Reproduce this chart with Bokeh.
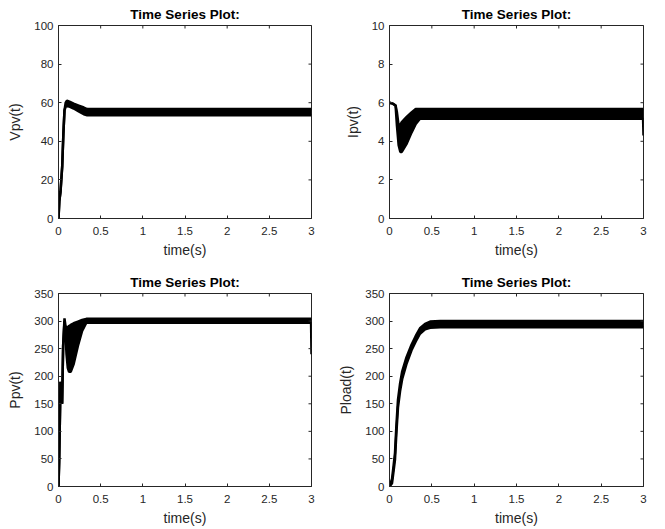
from bokeh.plotting import figure
from bokeh.layouts import column, row
from bokeh.models import Range1d, FixedTicker
from bokeh.embed import file_html
from bokeh.resources import INLINE

# ---------------- data ----------------
title_text = "Time Series Plot:"
x_label = "time(s)"
x_ticks = [0, 0.5, 1, 1.5, 2, 2.5, 3]
x_tick_labels = ["0", "0.5", "1", "1.5", "2", "2.5", "3"]

# Vpv(t): band envelopes
vpv_t = [0.000, 0.010, 0.024, 0.044, 0.058, 0.071, 0.085, 0.100, 0.130, 0.180, 0.240, 0.300, 0.340, 0.400, 1.000, 2.000, 3.000]
vpv_hi = [0, 9, 14, 27, 44, 56, 60, 61, 60.5, 59.5, 58.5, 57.5, 56.7, 56.7, 56.7, 56.7, 56.7]
vpv_lo = [0, 9, 14, 27, 44, 56, 58, 58.2, 58, 57, 55.5, 54, 53.5, 53.5, 53.5, 53.5, 53.5]
vpv_yticks = [0, 20, 40, 60, 80, 100]

# Ipv(t)
ipv_t = [0.000, 0.040, 0.072, 0.088, 0.108, 0.128, 0.145, 0.200, 0.260, 0.310, 0.360, 0.400, 1.000, 2.000, 2.995, 3.000]
ipv_hi = [6.0, 5.95, 5.85, 5.5, 4.8, 4.85, 5.0, 5.25, 5.5, 5.68, 5.68, 5.68, 5.68, 5.68, 5.68, 5.68]
ipv_lo = [6.0, 5.95, 5.85, 4.8, 3.8, 3.45, 3.45, 3.85, 4.45, 4.9, 5.17, 5.17, 5.17, 5.17, 5.17, 4.3]
ipv_yticks = [0, 2, 4, 6, 8, 10]

# Ppv(t)
ppv_t = [0.000, 0.008, 0.024, 0.043, 0.055, 0.071, 0.082, 0.095, 0.110, 0.125, 0.145, 0.180, 0.230, 0.280, 0.330, 0.360, 1.000, 2.000, 2.995, 3.000]
ppv_hi = [0, 45, 190, 150, 255, 305, 292, 288, 289, 291, 293, 296, 299, 302, 304, 304, 304, 304, 304, 304]
ppv_lo = [0, 45, 190, 150, 255, 300, 280, 240, 215, 208, 208, 222, 255, 282, 297, 297, 297, 297, 297, 240]
ppv_yticks = [0, 50, 100, 150, 200, 250, 300, 350]

# Pload(t)
pload_t = [0.000, 0.030, 0.050, 0.065, 0.080, 0.100, 0.125, 0.150, 0.200, 0.260, 0.310, 0.360, 0.420, 0.480, 0.600, 1.000, 2.000, 3.000]
pload_hi = [0, 14, 40, 61, 107, 157, 187, 209, 234, 257, 273, 287, 295, 299, 300, 300, 300, 300]
pload_lo = [0, 6, 30, 49, 93, 143, 173, 195, 222, 247, 263, 277, 285, 288, 289, 289, 289, 289]
pload_yticks = [0, 50, 100, 150, 200, 250, 300, 350]

FONT = "Liberation Sans"
AX = "#262626"


def make_panel(t, lo, hi, yticks, ylabel, w, h, bl, br, bt, bb):
    p = figure(width=w, height=h, x_range=Range1d(0, 3), y_range=Range1d(yticks[0], yticks[-1]),
               output_backend="svg", toolbar_location=None,
               min_border_left=bl, min_border_right=br, min_border_top=bt, min_border_bottom=bb,
               background_fill_color="white", border_fill_color="white")
    p.grid.visible = False
    p.outline_line_color = AX
    p.outline_line_width = 1

    p.varea(x=t, y1=lo, y2=hi, fill_color="black")
    p.line(t, lo, line_color="black", line_width=2.5)
    p.line(t, hi, line_color="black", line_width=2.5)

    # inward ticks on top and right edges (half of each dash is clipped by the frame)
    p.scatter(x=x_ticks, y=[yticks[-1]] * len(x_ticks), marker="dash", size=6,
              angle=1.5707963, line_color=AX, line_width=1)
    p.scatter(x=[x_ticks[-1]] * len(yticks), y=yticks, marker="dash", size=6,
              line_color=AX, line_width=1)

    p.title.text = title_text
    p.title.align = "center"
    p.title.text_font = FONT
    p.title.text_font_size = "13.5px"
    p.title.text_font_style = "bold"
    p.title.text_color = "black"
    p.title.standoff = 7

    for ax in p.axis:
        ax.axis_line_color = AX
        ax.major_tick_line_color = AX
        ax.minor_tick_line_color = None
        ax.major_tick_in = 3
        ax.major_tick_out = 0
        ax.major_label_text_font = FONT
        ax.major_label_text_font_size = "11.5px"
        ax.major_label_text_color = AX
        ax.axis_label_text_font = FONT
        ax.axis_label_text_font_size = "14px"
        ax.axis_label_text_font_style = "normal"
        ax.axis_label_text_color = AX

    bx = p.xaxis[0]
    bx.ticker = FixedTicker(ticks=x_ticks)
    bx.major_label_overrides = {v: s for v, s in zip(x_ticks, x_tick_labels)}
    bx.axis_label = x_label
    bx.major_label_standoff = 8
    bx.axis_label_standoff = 4

    ly = p.yaxis[0]
    ly.ticker = FixedTicker(ticks=yticks)
    ly.major_label_overrides = {v: str(v) for v in yticks}
    ly.axis_label = ylabel
    ly.major_label_standoff = 5
    ly.axis_label_standoff = 8
    return p


p1 = make_panel(vpv_t, vpv_lo, vpv_hi, vpv_yticks, "Vpv(t)", 330, 260, 58, 19, 25, 42)
p2 = make_panel(ipv_t, ipv_lo, ipv_hi, ipv_yticks, "Ipv(t)", 330, 260, 59, 17, 25, 42)
p3 = make_panel(ppv_t, ppv_lo, ppv_hi, ppv_yticks, "Ppv(t)", 330, 268, 58, 19, 33, 41)
p4 = make_panel(pload_t, pload_lo, pload_hi, pload_yticks, "Pload(t)", 330, 268, 59, 17, 33, 41)

layout = column(row(p1, p2), row(p3, p4))
open("out.html", "w").write(file_html(layout, INLINE))
